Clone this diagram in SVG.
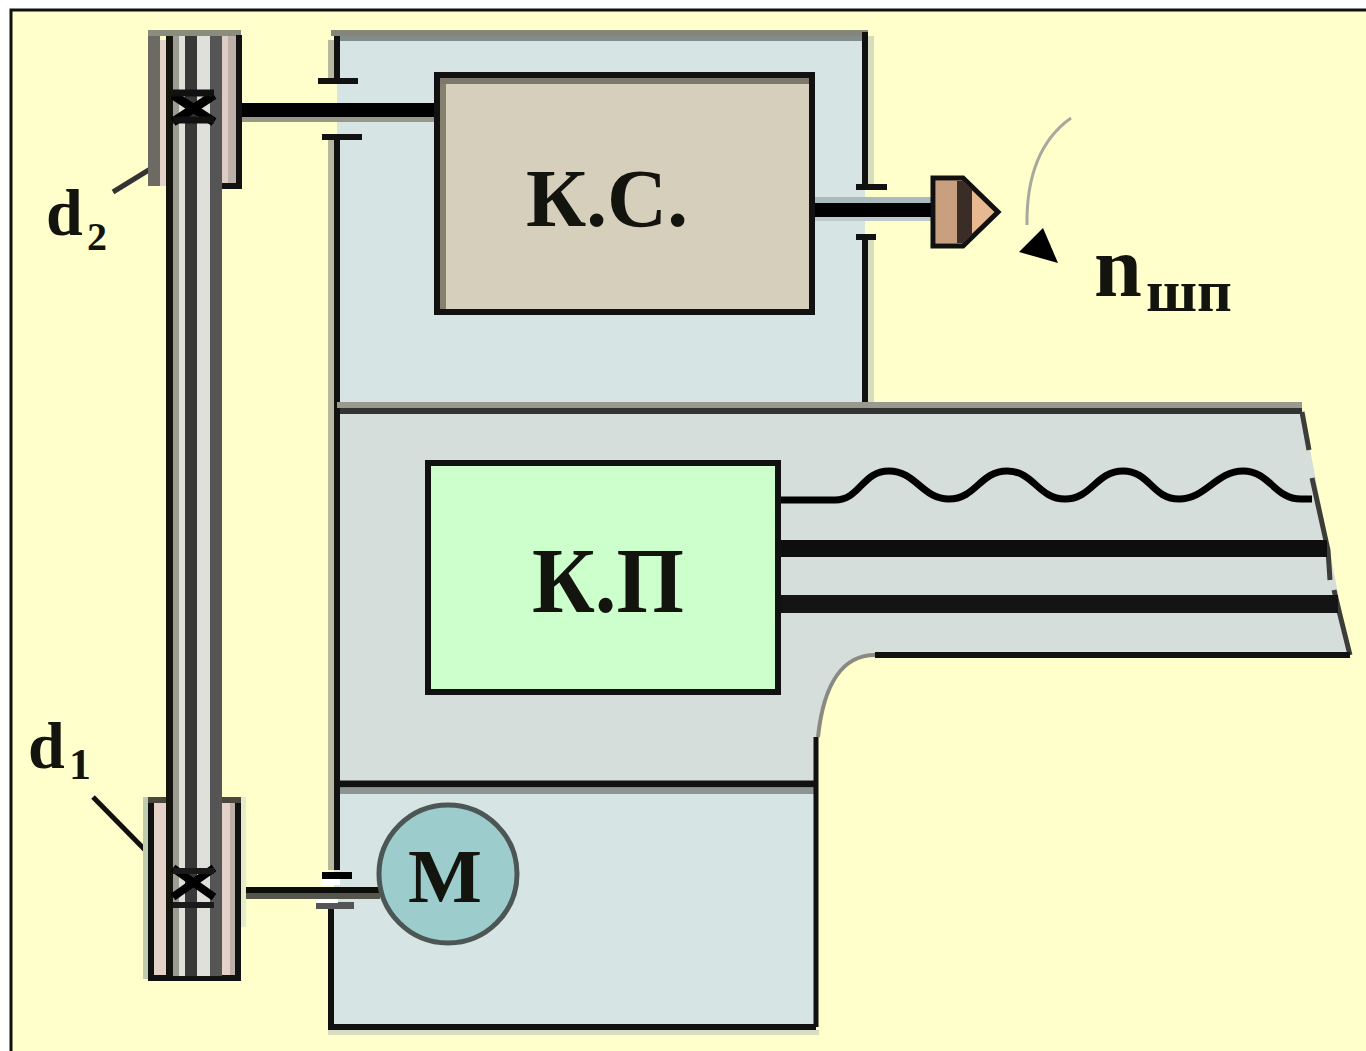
<svg xmlns="http://www.w3.org/2000/svg" width="1366" height="1051" viewBox="0 0 1366 1051">
<style>
.t{font-family:"Liberation Serif","Noto Sans CJK SC",serif;font-weight:700;fill:#14140e}
.k{stroke:#111;fill:none;stroke-linecap:butt}
.pale{stroke:#b8b8a0;fill:none}
.sh{fill:#141410}
</style>
<rect x="0" y="0" width="1366" height="1051" fill="#fff"/>
<rect x="11" y="10" width="1365" height="1051" fill="#ffffcc" stroke="#111" stroke-width="3"/>

<g id="housing-top">
<rect x="337" y="36" width="528" height="370" fill="#d6e4e4"/>
<path d="M331 40V80M331 140V408" class="pale" stroke-width="6"/>
<path d="M871 36V186M871 238V404" stroke="#d6dcc0" stroke-width="6" fill="none"/>
<rect x="331" y="30" width="537" height="6" fill="#85857a"/>
<rect x="337" y="36" width="531" height="5" fill="#828c8c"/>
<path d="M337 36V80M337 138V410" class="k" stroke-width="6"/>
<path d="M865 32V186M865 238V406" class="k" stroke-width="6"/>
</g>

<g id="housing-middle">
<path d="M337 408H1302L1350 655H875C845 655 824 680 818 737V785H337Z" fill="#d6dedc"/>
<rect x="337" y="402" width="965" height="6" fill="#999990"/>
<rect x="337" y="408" width="965" height="6" fill="#333"/>
<path d="M1302 412L1309 450M1312 478L1328 550L1330 580M1334 590L1340 615L1350 655" stroke="#3c3c38" stroke-width="5" fill="none"/>
<path d="M875 655H1350" class="k" stroke-width="6" stroke="#000"/>
<path d="M875 655C845 655 824 680 818 737" stroke="#8a8a80" stroke-width="4" fill="none"/>
<path d="M331 408V785" class="pale" stroke-width="6"/>
<path d="M337 408V785" class="k" stroke-width="6"/>
</g>

<g id="housing-bottom">
<rect x="334" y="788" width="482" height="238" fill="#d6e4e4"/>
<rect x="337" y="788" width="479" height="6" fill="#8c9494"/>
<path d="M331 785V870" class="pale" stroke-width="6"/>
<path d="M337 785V870" class="k" stroke-width="6"/>
<path d="M331 908V1027H816" class="k" stroke-width="6"/>
<path d="M816 737V1027" class="k" stroke-width="5"/>
<path d="M334 784H816" class="k" stroke-width="7"/>
<rect x="328" y="1030" width="491" height="5" fill="#d8dcc0"/>
</g>

<g id="connectors">
<rect x="240" y="117" width="197" height="5" fill="#98988a"/>
<rect x="240" y="103" width="197" height="14" fill="#000"/>
<path d="M318 81H358M322 137H362" class="k" stroke-width="6"/>
<rect x="815" y="197" width="118" height="6" fill="#a8bcc0"/>
<rect x="815" y="217" width="118" height="4" fill="#bccacc"/>
<rect x="812" y="203" width="122" height="14" fill="#000"/>
<path d="M856 187H887M856 237H876" class="k" stroke-width="6"/>
<rect x="240" y="893" width="140" height="6" fill="#55554c"/>
<rect x="240" y="887" width="140" height="6" fill="#0c0c08"/>
<rect x="322" y="872" width="30" height="7" fill="#000"/>
<rect x="322" y="879" width="18" height="6" fill="#fff"/>
<rect x="316" y="902" width="38" height="7" fill="#555"/>
<rect x="316" y="899" width="22" height="4" fill="#fff"/>
<path d="M780 500H835C860 500 862 471 889 471C916 471 922 499 949 499C976 499 980 471 1007 471C1034 471 1038 499 1065 499C1092 499 1096 471 1123 471C1150 471 1152 499 1179 499C1206 499 1216 471 1243 471C1270 471 1274 499 1301 499H1312" stroke="#000" stroke-width="7" fill="none"/>
<rect x="780" y="540" width="547" height="17" fill="#0e0e0e"/>
<rect x="780" y="595" width="558" height="18" fill="#141414"/>
<path d="M113 192L165 160" stroke="#333" stroke-width="5"/>
<path d="M93 797L150 855" stroke="#111" stroke-width="5"/>
<path d="M1071 118Q1026 150 1027 225" stroke="#a8a89c" stroke-width="3" fill="none"/>
<path d="M1043 228L1019 252L1058 263Z" fill="#000"/>
</g>

<g id="pulley-top">
<rect x="148" y="30" width="93" height="6" fill="#8a8c7c"/>
<rect x="148" y="36" width="12" height="150" fill="#6c6a62"/>
<rect x="160" y="40" width="8" height="146" fill="#e4d2c8"/>
<rect x="222" y="36" width="14" height="150" fill="#dcccc4"/>
<rect x="228" y="36" width="8" height="150" fill="#bcb0a8"/>
<path d="M239 35V189" class="k" stroke-width="6"/>
<path d="M216 186H239" class="k" stroke-width="6"/>
</g>

<g id="pulley-bottom">
<rect x="143" y="797" width="5" height="182" fill="#c0ccb0"/>
<rect x="241" y="797" width="5" height="130" fill="#e4ecc8"/>
<rect x="151" y="800" width="15" height="176" fill="#e4d2c8"/>
<rect x="222" y="800" width="16" height="176" fill="#e4d2c8"/>
<rect x="230" y="800" width="8" height="176" fill="#bcb0a8"/>
<path d="M151 797V978H238V797" class="k" stroke-width="6"/>
<path d="M148 800H166M222 800H241" stroke="#4a4640" stroke-width="6"/>
</g>

<g id="belt">
<rect x="166" y="36" width="56" height="940" fill="#e0e0da"/>
<rect x="173" y="36" width="6" height="940" fill="#9c9c92"/>
<rect x="185" y="36" width="12" height="940" fill="#383838"/>
<rect x="210" y="36" width="12" height="940" fill="#555"/>
<rect x="166" y="36" width="7" height="940" fill="#14140c"/>
<path d="M173 95L214 122M214 95L173 122" stroke="#000" stroke-width="9"/>
<path d="M173 93H214M173 120H214" stroke="#111" stroke-width="7"/>
<path d="M173 868L214 897M214 868L173 897" stroke="#000" stroke-width="8"/>
<path d="M173 871H214M173 905H214" stroke="#1a1a1a" stroke-width="6"/>
</g>

<g id="node-ks">
<rect x="437" y="75" width="375" height="237" fill="#d6cfbc" stroke="#111" stroke-width="6"/>
<rect x="440" y="78" width="6" height="231" fill="#84806e"/>
<rect x="440" y="78" width="369" height="6" fill="#7c786c"/>
<text class="t" x="526" y="226" font-size="83" textLength="162" lengthAdjust="spacingAndGlyphs">К.С.</text>
</g>

<g id="node-kp">
<rect x="428" y="463" width="350" height="229" fill="#ccffcc" stroke="#111" stroke-width="6"/>
<text class="t" x="532" y="612" font-size="94" textLength="152" lengthAdjust="spacingAndGlyphs">К.П</text>
</g>

<g id="node-motor">
<circle cx="448" cy="874" r="69" fill="#9ccccc" stroke="#4c5654" stroke-width="5"/>
<text class="t" x="408" y="902" font-size="76" textLength="74" lengthAdjust="spacingAndGlyphs">М</text>
</g>

<g id="node-chuck">
<path d="M933 178H963L998 212L963 246H933Z" fill="#e8b890" stroke="#111" stroke-width="5"/>
<rect x="936" y="181" width="21" height="62" fill="#c8a080"/>
<path d="M957 181H964L972 190V234L964 243H957Z" fill="#3a2c26"/>
</g>

<g id="labels">
<text class="t" x="46" y="235" font-size="66">d</text>
<text class="t" x="87" y="250" font-size="40" fill="#555">2</text>
<text class="t" x="28" y="768" font-size="66">d</text>
<text class="t" x="69" y="779" font-size="44">1</text>
<text class="t" x="1094" y="296" font-size="86">n</text>
<text class="t" x="1146" y="311" font-size="60" textLength="86" lengthAdjust="spacingAndGlyphs">шп</text>
</g>
</svg>
